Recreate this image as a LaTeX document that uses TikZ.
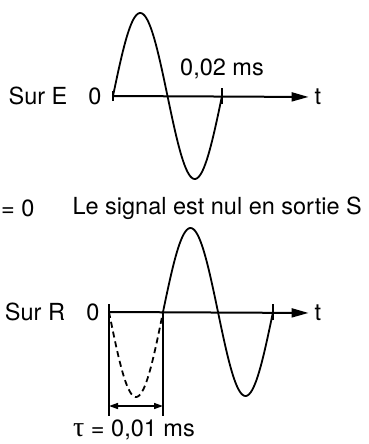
\documentclass[tikz,border=0pt]{standalone}
\usepackage{fontspec}
\setmainfont{TeX Gyre Heros}
\newfontfamily\taufont{Liberation Serif}
\usepackage{tikz}
\usetikzlibrary{arrows.meta,positioning}

\begin{document}
\begin{tikzpicture}[
    x=1pt, y=-1pt,
    lbl/.style={inner sep=0pt, font=\fontsize{23.5}{27}\selectfont},
    axis/.style={line width=2pt, shorten >=6pt, -{Triangle[length=17pt,width=9pt]}},
    wave/.style={line width=1.8pt},
    tick/.style={line width=1.8pt},
    dim/.style={line width=1.5pt, {Triangle[length=9pt,width=6pt]}-{Triangle[length=9pt,width=6pt]}}
]

  \useasboundingbox (0,0) rectangle (368,444);

  % signal on E
  \coordinate (oE) at (113,96);
  \coordinate (pE) at (222,96);
  \node[lbl] (tE) at (318,97) {t};
  \node[lbl] (zeroE) at (95,96) {0};
  \node[lbl] (surE) at (38,96) {Sur E};
  \node[lbl] (periodE) at (222,69) {0,02 ms};
  \draw[axis] (oE) -- (tE.west);
  \draw[tick] ([yshift=-5pt]oE) -- ([yshift=5pt]oE);
  \draw[tick] ([yshift=-8pt]pE) -- ([yshift=8pt]pE);
  \draw[wave] plot[domain=0:360, samples=80] ({113+\x/360*109}, {96-83*sin(\x)});

  % message
  \node[lbl, anchor=west] (eqzero) at (1,208) {= 0};
  \node[lbl, anchor=east] (msg) at (362,208) {Le signal est nul en sortie S};

  % signal on R
  \coordinate (oR) at (109,312);
  \coordinate (aR) at (163,312);
  \coordinate (pR) at (273,312);
  \node[lbl] (tR) at (318,313) {t};
  \node[lbl] (zeroR) at (93,312) {0};
  \node[lbl] (surR) at (35,312) {Sur R};
  \draw[axis] (oR) -- (tR.west);
  \draw[tick] ([yshift=-8pt]oR) -- ([yshift=8pt]oR);
  \draw[tick] ([yshift=-8pt]pR) -- ([yshift=8pt]pR);
  \draw[wave, dash pattern=on 6pt off 4pt] plot[domain=0:180, samples=40] ({109+\x/180*54}, {312+85*sin(\x)});
  \draw[wave] plot[domain=0:360, samples=80] ({163+\x/360*110}, {312-84*sin(\x)});

  % delay
  \coordinate (dA) at (109,416);
  \coordinate (dB) at (163,416);
  \draw[tick] (oR) -- (dA);
  \draw[tick] (aR) -- (dB);
  \draw[dim] ([yshift=10pt]dA) -- ([yshift=10pt]dB);
  \node[lbl] (tau) at (134,430) {{\taufont\fontsize{28}{30}\selectfont τ} = 0,01 ms};

\end{tikzpicture}
\end{document}
